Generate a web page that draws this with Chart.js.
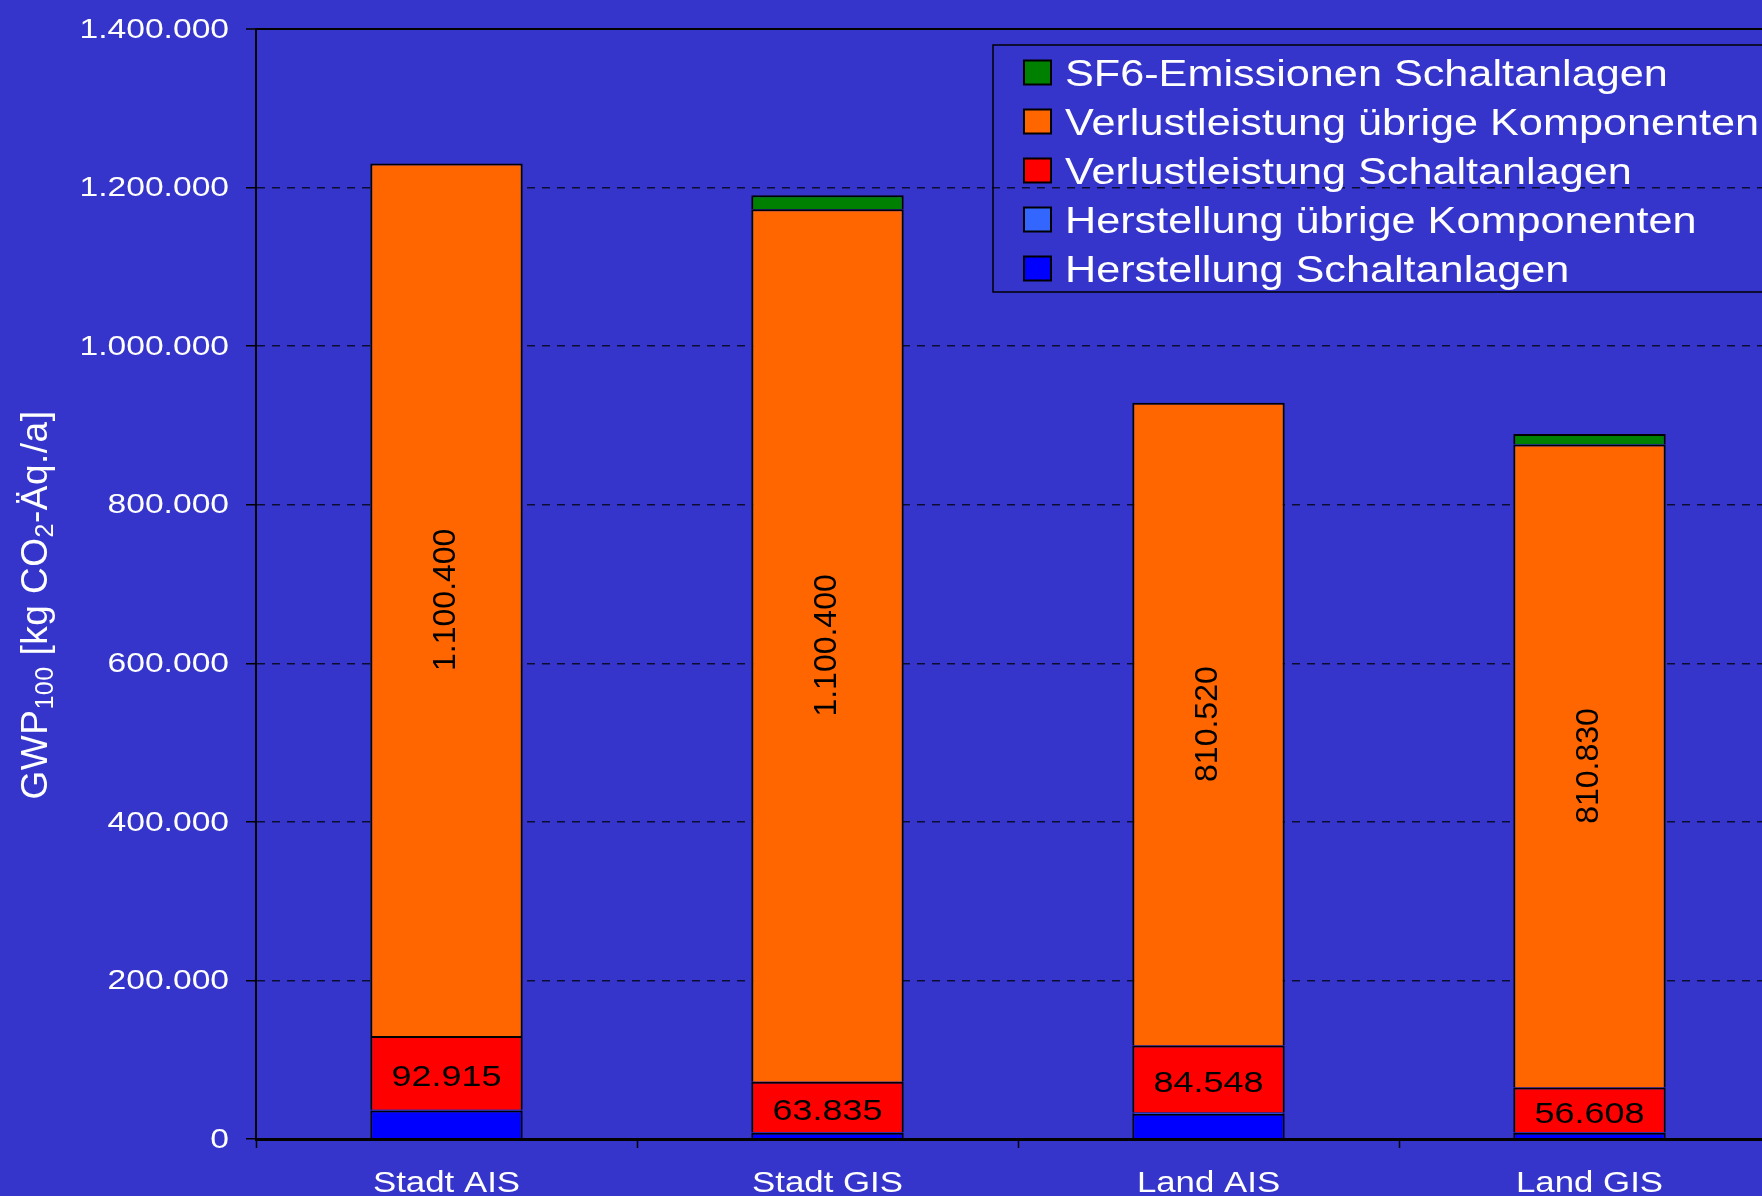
<!DOCTYPE html>
<html lang="de">
<head>
<meta charset="utf-8">
<title>GWP100 Schaltanlagen</title>
<script src="https://cdn.jsdelivr.net/npm/chart.js@4/dist/chart.umd.min.js"></script>
<style>
  html, body { margin: 0; padding: 0; background: #3535cc; overflow: hidden; }
  canvas { display: block; }
</style>
</head>
<body>
<canvas id="gwp" width="1800" height="1196" style="width:1800px;height:1196px"></canvas>
<script>
// Werte je Variante in kg CO2-Äq./a
const kategorien = ['Stadt AIS', 'Stadt GIS', 'Land AIS', 'Land GIS'];
const herstellungSchaltanlagen = [36000, 8000, 32000, 7800];
const herstellungUebrige = [1000, 500, 1500, 600];
const verlustSchaltanlagen = [92915, 63835, 84548, 56608];
const verlustUebrige = [1100400, 1100400, 810520, 810830];
const sf6Emissionen = [0, 17700, 0, 13500];
const yTicks = [0, 200000, 400000, 600000, 800000, 1000000, 1200000, 1400000];

// Achsentitel mit Tiefstellungen
const yTitel = [
  { t: 'GWP' }, { t: '100', sub: true }, { t: ' [kg CO' }, { t: '2', sub: true }, { t: '-Äq./a]' }
];

const FONT = "'Liberation Sans', Arial, sans-serif";
const BREIT = 1.2; // Schrift leicht in die Breite gezogen

function fmt(v) {
  return String(Math.round(v)).replace(/\B(?=(\d{3})+(?!\d))/g, '.');
}

// Text horizontal gestreckt zeichnen
function breitText(ctx, text, x, y, align, baseline) {
  ctx.save();
  ctx.translate(x, y);
  ctx.scale(BREIT, 1);
  ctx.textAlign = align;
  ctx.textBaseline = baseline;
  ctx.fillText(text, 0, 0);
  ctx.restore();
}

// Achsenbeschriftungen über die Skalen der Bibliothek positioniert
const achsenText = {
  id: 'achsenText',
  afterDraw(chart) {
    const ctx = chart.ctx;
    const sx = chart.scales.x, sy = chart.scales.y;
    ctx.save();
    ctx.fillStyle = '#fff';
    ctx.font = '28px ' + FONT;
    yTicks.forEach(v => {
      breitText(ctx, fmt(v), sy.right - 27, sy.getPixelForValue(v) + 1, 'right', 'middle');
    });
    ctx.font = '29px ' + FONT;
    kategorien.forEach((k, i) => {
      breitText(ctx, k, sx.getPixelForValue(i), sx.top + 52.5, 'center', 'alphabetic');
    });
    ctx.restore();
  }
};

// Werte in den roten und orangen Segmenten
const wertLabels = {
  id: 'wertLabels',
  afterDatasetsDraw(chart) {
    const ctx = chart.ctx;
    chart.data.datasets.forEach((ds, i) => {
      if (!ds.zeigeWert) return;
      chart.getDatasetMeta(i).data.forEach((bar, j) => {
        const yMid = (bar.y + bar.base) / 2;
        ctx.save();
        ctx.fillStyle = '#000';
        if (ds.zeigeWert === 'vertikal') {
          ctx.font = '32px ' + FONT;
          ctx.textAlign = 'center';
          ctx.textBaseline = 'middle';
          ctx.translate(bar.x, yMid);
          ctx.rotate(-Math.PI / 2);
          ctx.fillText(fmt(ds.data[j]), 0, 0);
        } else {
          ctx.font = '30px ' + FONT;
          breitText(ctx, fmt(ds.data[j]), bar.x, yMid + 13.5, 'center', 'alphabetic');
        }
        ctx.restore();
      });
    });
  }
};

// Legende oben rechts im Diagramm, mit Rahmen
const legende = {
  id: 'legende',
  afterDraw(chart) {
    const ctx = chart.ctx;
    const links = 993, oben = 45, unten = 292;
    ctx.save();
    ctx.strokeStyle = '#000';
    ctx.lineWidth = 1.5;
    ctx.strokeRect(links, oben, chart.width - links + 10, unten - oben);
    chart.data.datasets.slice().reverse().forEach((ds, k) => {
      const yc = 72.5 + k * 49;
      ctx.fillStyle = ds.backgroundColor;
      ctx.fillRect(1024, yc - 12, 27, 24);
      ctx.lineWidth = 2;
      ctx.strokeRect(1024, yc - 12, 27, 24);
      ctx.fillStyle = '#fff';
      ctx.font = '36px ' + FONT;
      breitText(ctx, ds.label, 1065, yc + 13, 'left', 'alphabetic');
    });
    ctx.restore();
  }
};

// gedrehter y-Achsentitel
const achsenTitel = {
  id: 'achsenTitel',
  afterDraw(chart) {
    const ctx = chart.ctx;
    ctx.save();
    ctx.fillStyle = '#fff';
    ctx.textBaseline = 'alphabetic';
    ctx.textAlign = 'left';
    ctx.letterSpacing = '0.5px';
    const teile = yTitel.map(p => {
      ctx.font = (p.sub ? '25px ' : '37px ') + FONT;
      return { ...p, w: ctx.measureText(p.t).width };
    });
    const gesamt = teile.reduce((s, p) => s + p.w, 0);
    ctx.translate(46.5, 605);
    ctx.rotate(-Math.PI / 2);
    let x = -gesamt / 2;
    teile.forEach(p => {
      ctx.font = (p.sub ? '25px ' : '37px ') + FONT;
      ctx.fillText(p.t, x, p.sub ? 6 : 0);
      x += p.w;
    });
    ctx.restore();
  }
};

function segment(label, data, farbe, zeigeWert) {
  return {
    label: label,
    data: data,
    backgroundColor: farbe,
    borderColor: '#000',
    borderWidth: 2,
    borderSkipped: 'start',
    barPercentage: 0.4,
    categoryPercentage: 1.0,
    zeigeWert: zeigeWert
  };
}

new Chart(document.getElementById('gwp'), {
  type: 'bar',
  data: {
    labels: kategorien,
    datasets: [
      segment('Herstellung Schaltanlagen', herstellungSchaltanlagen, '#0000ff'),
      segment('Herstellung übrige Komponenten', herstellungUebrige, '#3366ff'),
      segment('Verlustleistung Schaltanlagen', verlustSchaltanlagen, '#ff0000', 'horizontal'),
      segment('Verlustleistung übrige Komponenten', verlustUebrige, '#ff6600', 'vertikal'),
      segment('SF6-Emissionen Schaltanlagen', sf6Emissionen, '#008000')
    ]
  },
  options: {
    responsive: false,
    animation: false,
    layout: { padding: { top: 29, right: 20, bottom: 0, left: 0 } },
    plugins: {
      legend: { display: false },
      tooltip: { enabled: false }
    },
    scales: {
      x: {
        stacked: true,
        afterFit: s => { s.height = 57; },
        grid: {
          offset: true,
          drawOnChartArea: false,
          tickLength: 9,
          tickColor: '#000',
          tickWidth: 1.5
        },
        border: { color: '#000', width: 3, z: 1 },
        ticks: { display: false }
      },
      y: {
        stacked: true,
        min: 0,
        max: 1400000,
        afterFit: s => { s.width = 256; },
        afterBuildTicks: s => { s.ticks = yTicks.map(v => ({ value: v })); },
        grid: {
          color: ctx => ctx.tick && ctx.tick.value === 1400000 ? '#000' : 'rgba(0,0,0,0.75)',
          lineWidth: ctx => ctx.tick && ctx.tick.value === 1400000 ? 2 : 1.5,
          tickLength: 10,
          tickColor: '#000',
          tickWidth: 1.5,
          tickBorderDash: []
        },
        border: {
          color: '#000',
          width: 2,
          dash: ctx => ctx.tick && ctx.tick.value === 1400000 ? [] : [8, 7]
        },
        ticks: { display: false }
      }
    }
  },
  plugins: [wertLabels, legende, achsenTitel, achsenText]
});
</script>
</body>
</html>
